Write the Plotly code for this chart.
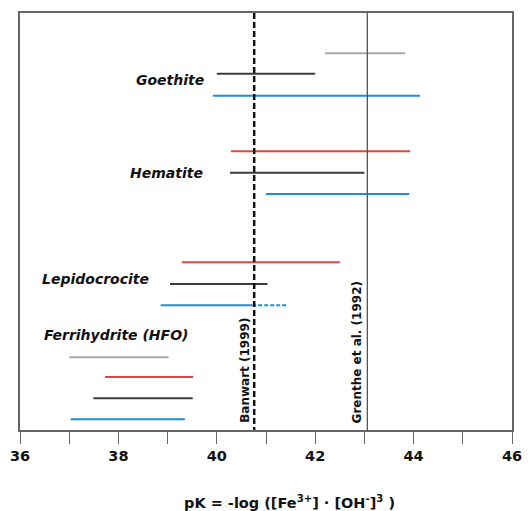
import plotly.graph_objects as go

# ---- data (pK ranges) ----
goethite_lo = [42.2, 40.0, 39.92]
goethite_hi = [43.83, 42.0, 44.13]
hematite_lo = [40.29, 40.27, 41.0]
hematite_hi = [43.93, 43.0, 43.91]
lepido_lo = [39.29, 39.05, 38.86]
lepido_hi = [42.5, 41.03, 40.72]
lepido_extrap_hi = 41.42
ferri_lo = [37.0, 37.73, 37.49, 37.03]
ferri_hi = [39.02, 39.52, 39.51, 39.35]
banwart_pk = 40.76
grenthe_pk = 43.06
mineral_names = ["Goethite", "Hematite", "Lepidocrocite", "Ferrihydrite (HFO)"]
x_ticks = [36, 38, 40, 42, 44, 46]

# ---- layout rows / styles ----
GRAY, DARK, RED, BLUE = "#a9a9a9", "#3c3c3c", "#e2453c", "#1e8fd5"
goethite_rows = [1.89, 2.85, 3.88]
hematite_rows = [6.49, 7.5, 8.5]
lepido_rows = [11.7, 12.72, 13.72]
ferri_rows = [16.16, 17.09, 18.09, 19.08]
goethite_cols = [GRAY, DARK, BLUE]
hematite_cols = [RED, DARK, BLUE]
lepido_cols = [RED, DARK, BLUE]
ferri_cols = [GRAY, RED, DARK, BLUE]

fig = go.Figure()

def add_segments(lo, hi, rows, cols):
    for a, b, r, c in zip(lo, hi, rows, cols):
        fig.add_trace(go.Scatter(x=[a, b], y=[r, r], mode="lines",
                                 line=dict(color=c, width=2), showlegend=False,
                                 hoverinfo="skip"))

add_segments(goethite_lo, goethite_hi, goethite_rows, goethite_cols)
add_segments(hematite_lo, hematite_hi, hematite_rows, hematite_cols)
add_segments(lepido_lo, lepido_hi, lepido_rows, lepido_cols)
add_segments(ferri_lo, ferri_hi, ferri_rows, ferri_cols)
# dashed extrapolation of lepidocrocite blue
fig.add_trace(go.Scatter(x=[lepido_hi[2], lepido_extrap_hi], y=[lepido_rows[2]] * 2,
                         mode="lines", line=dict(color=BLUE, width=2, dash="4px,2px"),
                         showlegend=False, hoverinfo="skip"))

YMAX = 19.58
# reference lines
fig.add_trace(go.Scatter(x=[banwart_pk, banwart_pk], y=[0, YMAX], mode="lines",
                         line=dict(color="#111111", width=2.5, dash="6px,3px"),
                         showlegend=False, hoverinfo="skip"))
fig.add_trace(go.Scatter(x=[grenthe_pk, grenthe_pk], y=[0, YMAX], mode="lines",
                         line=dict(color="#555555", width=1.3),
                         showlegend=False, hoverinfo="skip"))

lab_font = dict(family="DejaVu Sans", size=14, color="#111111", weight="bold", style="italic")
fig.add_annotation(x=39.79, y=3.15, text=mineral_names[0], xanchor="right", showarrow=False, font=lab_font)
fig.add_annotation(x=39.77, y=7.5, text=mineral_names[1], xanchor="right", showarrow=False, font=lab_font)
fig.add_annotation(x=36.41, y=12.49, text=mineral_names[2], xanchor="left", showarrow=False, font=lab_font)
fig.add_annotation(x=36.44, y=15.12, text=mineral_names[3], xanchor="left", showarrow=False, font=lab_font)

ref_font = dict(family="DejaVu Sans", size=12, color="#111111", weight="bold")
fig.add_annotation(x=banwart_pk, y=19.35, text="Banwart (1999)", textangle=-90,
                   xanchor="right", yanchor="bottom", xshift=-1, showarrow=False, font=ref_font)
fig.add_annotation(x=grenthe_pk, y=19.35, text="Grenthe et al. (1992)", textangle=-90,
                   xanchor="right", yanchor="bottom", xshift=-1, showarrow=False, font=ref_font)

fig.add_annotation(xref="paper", yref="paper", x=0.547, y=-0.172, yanchor="middle",
                   text="pK = -log ([Fe<sup>3+</sup>] · [OH<sup>-</sup>]<sup>3</sup> )",
                   showarrow=False, font=dict(family="DejaVu Sans", size=14.5, color="#111111", weight="bold"))

fig.update_xaxes(range=[36, 46], tickvals=x_ticks, ticks="outside", ticklen=12,
                 tickcolor="#666666", tickwidth=1.3,
                 minor=dict(dtick=1, ticks="outside", ticklen=12, tickcolor="#666666", tickwidth=1.3),
                 showline=True, linecolor="#666666", linewidth=1.5, mirror=True,
                 showgrid=False, zeroline=False, automargin=False,
                 tickfont=dict(family="DejaVu Sans", size=14.5, color="#111111", weight="bold"))
fig.update_yaxes(range=[YMAX, 0], showticklabels=False, ticks="", showgrid=False,
                 zeroline=False, showline=True, linecolor="#666666", linewidth=1.5, mirror=True)

fig.update_layout(width=528, height=511, margin=dict(l=20, r=16, t=13, b=81),
                  plot_bgcolor="white", paper_bgcolor="white")
fig.write_html("out.html", config={"displayModeBar": False},
               post_script="document.body.style.margin='0';document.body.style.overflow='hidden';")
